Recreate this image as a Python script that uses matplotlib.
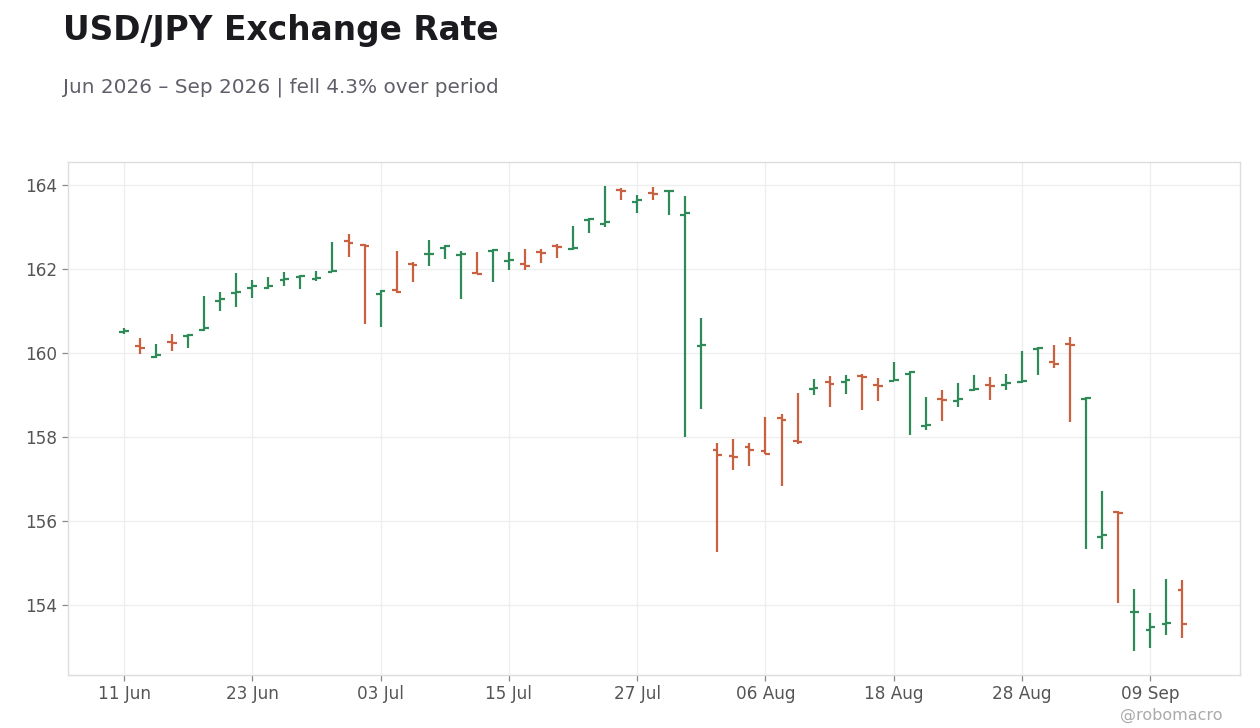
import numpy as np
import pandas as pd
import matplotlib
matplotlib.use("Agg")
import matplotlib.pyplot as plt

# business days, first bar 11 Jun 2026
dates = pd.bdate_range("2026-06-11", periods=67)

opens = [160.51, 160.17, 159.90, 160.26, 160.40, 160.55, 161.24, 161.42, 161.56, 161.55,
         161.74, 161.80, 161.77, 161.93, 162.67, 162.58, 161.41, 161.49, 162.13, 162.35,
         162.50, 162.33, 161.90, 162.42, 162.19, 162.11, 162.40, 162.55, 162.47, 163.16,
         163.07, 163.89, 163.60, 163.80, 163.85, 163.29, 160.16, 157.70, 157.54, 157.75,
         157.67, 158.46, 157.91, 159.14, 159.30, 159.31, 159.46, 159.23, 159.33, 159.51,
         158.26, 158.91, 158.86, 159.13, 159.23, 159.24, 159.31, 160.09, 159.78, 160.21,
         158.90, 155.62, 156.21, 153.82, 153.41, 153.54, 154.36]
highs = [160.59, 160.36, 160.21, 160.45, 160.45, 161.36, 161.45, 161.90, 161.74, 161.81,
         161.93, 161.85, 161.95, 162.64, 162.83, 162.60, 161.50, 162.43, 162.17, 162.69,
         162.57, 162.43, 162.40, 162.48, 162.40, 162.48, 162.48, 162.60, 163.02, 163.21,
         163.98, 163.93, 163.76, 163.95, 163.88, 163.74, 160.83, 157.86, 157.95, 157.86,
         158.48, 158.55, 159.05, 159.38, 159.45, 159.48, 159.50, 159.40, 159.79, 159.56,
         158.95, 159.12, 159.29, 159.48, 159.43, 159.50, 160.05, 160.14, 160.19, 160.38,
         158.94, 156.71, 156.23, 154.38, 153.81, 154.62, 154.60]
lows = [160.45, 159.98, 159.89, 160.05, 160.13, 160.53, 161.00, 161.10, 161.32, 161.53,
        161.60, 161.53, 161.72, 161.93, 162.29, 160.70, 160.62, 161.44, 161.69, 162.07,
        162.24, 161.29, 161.87, 161.69, 161.98, 161.98, 162.15, 162.27, 162.46, 162.86,
        163.01, 163.64, 163.34, 163.64, 163.29, 158.01, 158.67, 155.25, 157.22, 157.30,
        157.60, 156.84, 157.84, 159.01, 158.72, 159.03, 158.65, 158.86, 159.34, 158.05,
        158.17, 158.39, 158.72, 159.10, 158.89, 159.13, 159.29, 159.48, 159.65, 158.36,
        155.34, 155.32, 154.05, 152.89, 152.98, 153.29, 153.22]
closes = [160.53, 160.12, 159.95, 160.24, 160.44, 160.60, 161.29, 161.45, 161.59, 161.60,
          161.77, 161.83, 161.79, 161.95, 162.63, 162.55, 161.47, 161.46, 162.10, 162.37,
          162.55, 162.37, 161.88, 162.45, 162.21, 162.07, 162.38, 162.53, 162.51, 163.19,
          163.11, 163.85, 163.64, 163.78, 163.87, 163.33, 160.20, 157.57, 157.52, 157.70,
          157.60, 158.40, 157.88, 159.16, 159.26, 159.35, 159.44, 159.21, 159.35, 159.55,
          158.28, 158.89, 158.91, 159.15, 159.21, 159.28, 159.33, 160.13, 159.74, 160.19,
          158.93, 155.66, 156.19, 153.84, 153.48, 153.58, 153.55]

up_color = "#2e8b57"
down_color = "#c9603f"

plt.rcParams["font.family"] = ["DejaVu Sans"]

fig = plt.figure(figsize=(12.6, 7.28), dpi=100)
ax = fig.add_axes([0.054, 0.0728, 0.930, 0.7047])

x = np.arange(len(dates))
o = np.array(opens)
h = np.array(highs)
l = np.array(lows)
c = np.array(closes)
colors = [up_color if cc >= oo else down_color for oo, cc in zip(o, c)]

tw = 0.3
ax.vlines(x, l, h, colors=colors, linewidth=1.6, zorder=3)
ax.hlines(o, x - tw, x, colors=colors, linewidth=1.6, zorder=3)
ax.hlines(c, x, x + tw, colors=colors, linewidth=1.6, zorder=3)

ax.set_xlim(-3.49, 69.58)
ax.set_ylim(152.33, 164.55)
ax.set_yticks([154, 156, 158, 160, 162, 164])

tick_pos = x[::8]
ax.set_xticks(tick_pos)
ax.set_xticklabels([dates[i].strftime("%d %b") for i in tick_pos])

ax.grid(True, color="#eeeeee", linewidth=0.9, zorder=0)
ax.set_axisbelow(True)
for s in ax.spines.values():
    s.set_color("#dddddd")
    s.set_linewidth(1.0)
ax.tick_params(axis="both", colors="#888888", labelcolor="#555555",
               labelsize=12.2, length=4, width=0.9)

fig.text(0.05, 0.945, "USD/JPY Exchange Rate", fontsize=23.7, fontweight="bold",
         color="#1a1a1f", va="baseline", ha="left")
fig.text(0.05, 0.8736, "Jun 2026 \u2013 Sep 2026 | fell 4.3% over period",
         fontsize=14.4, color="#5f5f6a", va="baseline", ha="left")
# watermark sits just under the last date label
fig.text(0.97, 0.011, "@robomacro", fontsize=11.5, color="#aaaaaa",
         va="baseline", ha="right")

fig.savefig("out.png", dpi=100, facecolor="white")
